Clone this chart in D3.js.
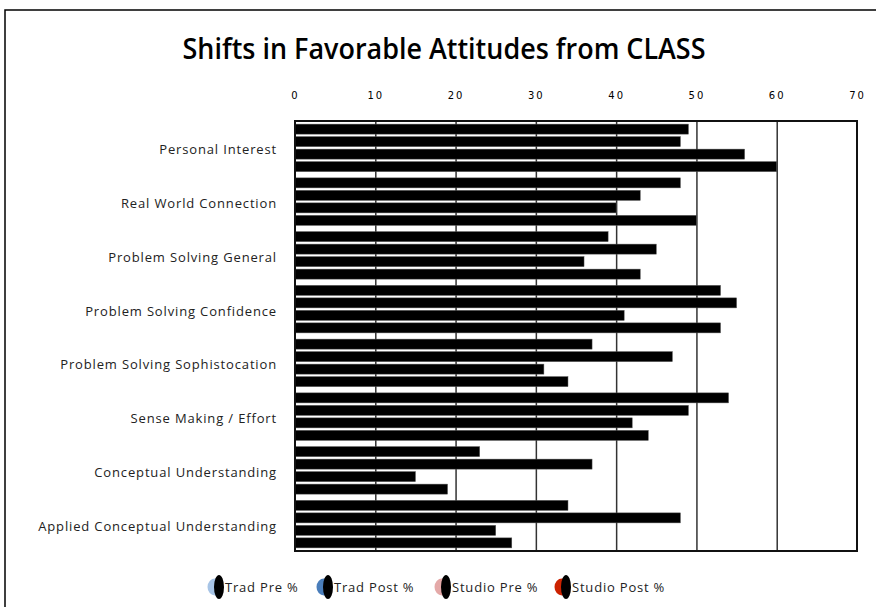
<!DOCTYPE html>
<html>
<head>
<meta charset="utf-8">
<script src="https://cdn.jsdelivr.net/npm/d3@7"></script>
<style>
  body { margin: 0; background: #fff; }
  svg { display: block; }
</style>
</head>
<body>
<div id="chart"></div>
<script>
// chart values
var categories = ["Personal Interest", "Real World Connection ", "Problem Solving General",
  "Problem Solving Confidence", "Problem Solving Sophistocation", "Sense Making / Effort",
  "Conceptual Understanding", "Applied Conceptual Understanding"];
var seriesNames = ["Trad Pre %", "Trad Post %", "Studio Pre %", "Studio Post %"];
var tradPre    = [49, 48, 39, 53, 37, 54, 23, 34];
var tradPost   = [48, 43, 45, 55, 47, 49, 37, 48];
var studioPre  = [56, 40, 36, 41, 31, 42, 15, 25];
var studioPost = [60, 50, 43, 53, 34, 44, 19, 27];
var xTicks = [0, 10, 20, 30, 40, 50, 60, 70];
var legendColors = ["#a7c4e6", "#4a7ebb", "#e4a9a8", "#cc2200"];

var seriesValues = [tradPre, tradPost, studioPre, studioPost];

// dimensions
var W = 876, H = 607;
var margin = {top: 121, left: 295},
    width = 857 - 295,
    height = 551 - 121;

var svg = d3.select("#chart").append("svg")
    .attr("width", W)
    .attr("height", H);

// outer chart frame (only top and left visible)
svg.append("rect")
    .attr("x", 5).attr("y", 10)
    .attr("width", 900).attr("height", 700)
    .attr("fill", "none")
    .attr("stroke", "#000")
    .attr("stroke-width", 1.5);

// title
svg.append("text")
    .attr("x", 444)
    .attr("y", 59)
    .attr("text-anchor", "middle")
    .attr("textLength", 523)
    .attr("lengthAdjust", "spacingAndGlyphs")
    .style("font-family", "'Open Sans', sans-serif")
    .style("font-weight", "600")
    .style("font-size", "28px")
    .text("Shifts in Favorable Attitudes from CLASS");

var g = svg.append("g")
    .attr("transform", "translate(" + margin.left + "," + margin.top + ")");

// scales
var x = d3.scaleLinear().domain([0, 70]).range([0, width]);
var y0 = d3.scaleBand().domain(categories).range([0, height]).padding(0);
var y1 = d3.scaleBand().domain(seriesNames).range([0, y0.bandwidth()])
    .paddingInner(0.2).paddingOuter(0.25);

// gridlines
g.append("g")
    .attr("class", "grid")
    .call(d3.axisTop(x).tickValues(xTicks.slice(1, -1)).tickSize(-height).tickFormat(""))
    .call(function(s) { s.select(".domain").remove(); })
    .selectAll("line")
    .attr("stroke", "#333")
    .attr("stroke-width", 1.5);

// bars
var rows = [];
categories.forEach(function(c, i) {
  seriesNames.forEach(function(s, j) {
    rows.push({cat: c, ser: s, val: seriesValues[j][i]});
  });
});

g.selectAll("rect.bar")
    .data(rows)
    .enter().append("rect")
    .attr("class", "bar")
    .attr("x", x(0))
    .attr("y", function(d) { return y0(d.cat) + y1(d.ser); })
    .attr("width", function(d) { return x(d.val) - x(0); })
    .attr("height", y1.bandwidth())
    .attr("fill", "#000")
    .attr("stroke", "#555")
    .attr("stroke-width", 0.5);

// plot frame
g.append("rect")
    .attr("width", width).attr("height", height)
    .attr("fill", "none")
    .attr("stroke", "#111")
    .attr("stroke-width", 2);

// x axis at top
var xAxis = g.append("g")
    .call(d3.axisTop(x).tickValues(xTicks).tickSize(0).tickPadding(22));
xAxis.select(".domain").remove();
xAxis.selectAll("text")
    .style("font-family", "'DejaVu Sans', sans-serif")
    .style("font-size", "10px")
    .style("letter-spacing", "2px")
    .attr("fill", "#000");

// category axis
var yAxis = g.append("g")
    .call(d3.axisLeft(y0).tickSize(0).tickPadding(18));
yAxis.select(".domain").remove();
yAxis.selectAll("text")
    .attr("dy", "0.5em")
    .style("font-family", "'Open Sans', sans-serif")
    .style("font-size", "13px")
    .style("letter-spacing", "0.85px")
    .attr("fill", "#222");

// legend
var legendX = [208, 317, 435, 555];
var legend = svg.append("g").selectAll("g")
    .data(seriesNames)
    .enter().append("g")
    .attr("transform", function(d, i) { return "translate(" + legendX[i] + ",587)"; });

legend.append("ellipse")
    .attr("cx", 7).attr("cy", 0)
    .attr("rx", 7.5).attr("ry", 8.5)
    .attr("fill", function(d, i) { return legendColors[i]; });

legend.append("ellipse")
    .attr("cx", 11).attr("cy", 0)
    .attr("rx", 5).attr("ry", 12)
    .attr("fill", "#000");

legend.append("text")
    .attr("x", 17)
    .attr("y", 0)
    .attr("dy", "0.35em")
    .style("font-family", "'Open Sans', sans-serif")
    .style("font-size", "13px")
    .style("letter-spacing", "0.8px")
    .attr("fill", "#222")
    .text(function(d) { return d; });
</script>
</body>
</html>
